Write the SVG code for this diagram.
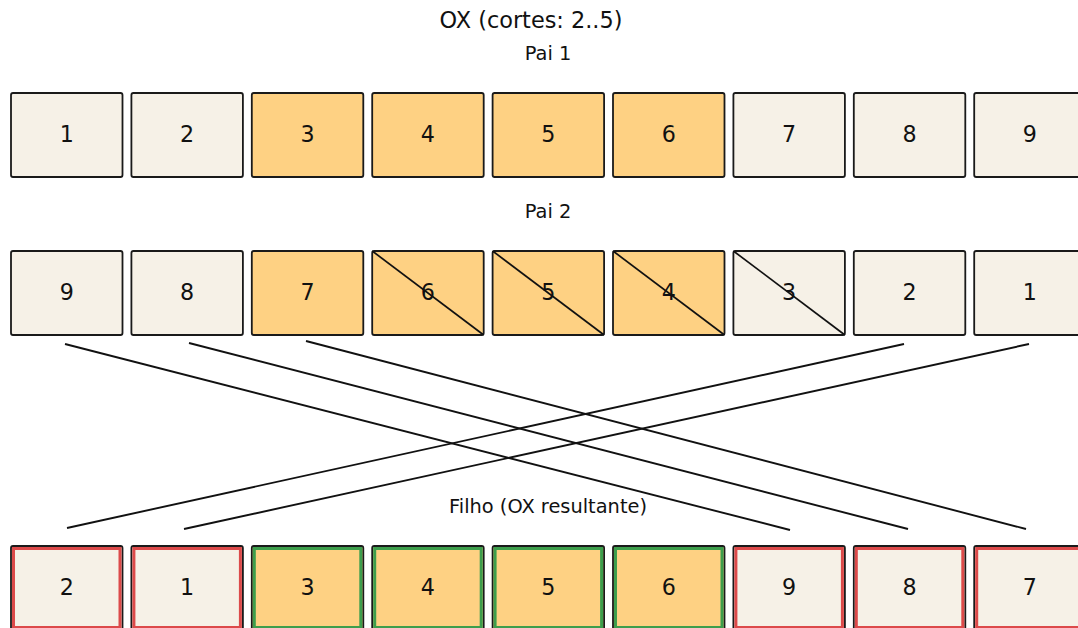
<svg xmlns="http://www.w3.org/2000/svg" width="1078" height="628" viewBox="0 0 1078 628">
<style>
text{font-family:"DejaVu Sans","Liberation Sans",sans-serif;fill:#111;text-anchor:middle;dominant-baseline:central}
.title{font-size:22.4px}
.lbl{font-size:19.4px}
.num{font-size:22.2px}
.b{stroke:#1a1a1a;stroke-width:1.8}
.lt{fill:#f6f1e7}
.or{fill:#fed183}
.red{fill:none;stroke:#dc4a4a;stroke-width:3}
.grn{fill:none;stroke:#3d9e4c;stroke-width:3}
.sl{stroke:#111;stroke-width:1.7}
.cn{stroke:#111;stroke-width:1.9;fill:none}
</style>
<rect width="1078" height="628" fill="#fff"/>
<text class="title" x="531" y="20">OX (cortes: 2..5)</text>
<text class="lbl" x="548" y="53">Pai 1</text>
<text class="lbl" x="548" y="211">Pai 2</text>
<text class="lbl" x="548" y="506">Filho (OX resultante)</text>

<g id="p1">
<g id="p1_0"><rect class="b lt" x="11" y="93" width="111.5" height="84" rx="2"/><text class="num" x="66.7" y="134">1</text></g>
<g id="p1_1"><rect class="b lt" x="131.4" y="93" width="111.5" height="84" rx="2"/><text class="num" x="187.1" y="134">2</text></g>
<g id="p1_2"><rect class="b or" x="251.8" y="93" width="111.5" height="84" rx="2"/><text class="num" x="307.5" y="134">3</text></g>
<g id="p1_3"><rect class="b or" x="372.2" y="93" width="111.5" height="84" rx="2"/><text class="num" x="427.9" y="134">4</text></g>
<g id="p1_4"><rect class="b or" x="492.6" y="93" width="111.5" height="84" rx="2"/><text class="num" x="548.3" y="134">5</text></g>
<g id="p1_5"><rect class="b or" x="613" y="93" width="111.5" height="84" rx="2"/><text class="num" x="668.7" y="134">6</text></g>
<g id="p1_6"><rect class="b lt" x="733.4" y="93" width="111.5" height="84" rx="2"/><text class="num" x="789.1" y="134">7</text></g>
<g id="p1_7"><rect class="b lt" x="853.8" y="93" width="111.5" height="84" rx="2"/><text class="num" x="909.5" y="134">8</text></g>
<g id="p1_8"><rect class="b lt" x="974.2" y="93" width="111.5" height="84" rx="2"/><text class="num" x="1029.9" y="134">9</text></g>
</g>

<g id="p2">
<g id="p2_0"><rect class="b lt" x="11" y="251" width="111.5" height="84" rx="2"/><text class="num" x="66.7" y="292">9</text></g>
<g id="p2_1"><rect class="b lt" x="131.4" y="251" width="111.5" height="84" rx="2"/><text class="num" x="187.1" y="292">8</text></g>
<g id="p2_2"><rect class="b or" x="251.8" y="251" width="111.5" height="84" rx="2"/><text class="num" x="307.5" y="292">7</text></g>
<g id="p2_3"><rect class="b or" x="372.2" y="251" width="111.5" height="84" rx="2"/><text class="num" x="427.9" y="292">6</text><line class="sl" x1="372.2" y1="251" x2="483.7" y2="335"/></g>
<g id="p2_4"><rect class="b or" x="492.6" y="251" width="111.5" height="84" rx="2"/><text class="num" x="548.3" y="292">5</text><line class="sl" x1="492.6" y1="251" x2="604.1" y2="335"/></g>
<g id="p2_5"><rect class="b or" x="613" y="251" width="111.5" height="84" rx="2"/><text class="num" x="668.7" y="292">4</text><line class="sl" x1="613" y1="251" x2="724.5" y2="335"/></g>
<g id="p2_6"><rect class="b lt" x="733.4" y="251" width="111.5" height="84" rx="2"/><text class="num" x="789.1" y="292">3</text><line class="sl" x1="733.4" y1="251" x2="844.9" y2="335"/></g>
<g id="p2_7"><rect class="b lt" x="853.8" y="251" width="111.5" height="84" rx="2"/><text class="num" x="909.5" y="292">2</text></g>
<g id="p2_8"><rect class="b lt" x="974.2" y="251" width="111.5" height="84" rx="2"/><text class="num" x="1029.9" y="292">1</text></g>
</g>

<g id="child">
<g id="c_0"><rect class="b lt" x="11" y="546" width="111.5" height="84" rx="2"/><rect class="red" x="13.5" y="548.5" width="106.5" height="79"/><text class="num" x="66.7" y="587">2</text></g>
<g id="c_1"><rect class="b lt" x="131.4" y="546" width="111.5" height="84" rx="2"/><rect class="red" x="133.9" y="548.5" width="106.5" height="79"/><text class="num" x="187.1" y="587">1</text></g>
<g id="c_2"><rect class="b or" x="251.8" y="546" width="111.5" height="84" rx="2"/><rect class="grn" x="254.3" y="548.5" width="106.5" height="79"/><text class="num" x="307.5" y="587">3</text></g>
<g id="c_3"><rect class="b or" x="372.2" y="546" width="111.5" height="84" rx="2"/><rect class="grn" x="374.7" y="548.5" width="106.5" height="79"/><text class="num" x="427.9" y="587">4</text></g>
<g id="c_4"><rect class="b or" x="492.6" y="546" width="111.5" height="84" rx="2"/><rect class="grn" x="495.1" y="548.5" width="106.5" height="79"/><text class="num" x="548.3" y="587">5</text></g>
<g id="c_5"><rect class="b or" x="613" y="546" width="111.5" height="84" rx="2"/><rect class="grn" x="615.5" y="548.5" width="106.5" height="79"/><text class="num" x="668.7" y="587">6</text></g>
<g id="c_6"><rect class="b lt" x="733.4" y="546" width="111.5" height="84" rx="2"/><rect class="red" x="735.9" y="548.5" width="106.5" height="79"/><text class="num" x="789.1" y="587">9</text></g>
<g id="c_7"><rect class="b lt" x="853.8" y="546" width="111.5" height="84" rx="2"/><rect class="red" x="856.3" y="548.5" width="106.5" height="79"/><text class="num" x="909.5" y="587">8</text></g>
<g id="c_8"><rect class="b lt" x="974.2" y="546" width="111.5" height="84" rx="2"/><rect class="red" x="976.7" y="548.5" width="106.5" height="79"/><text class="num" x="1029.9" y="587">7</text></g>
</g>

<g id="connectors">
<line class="cn" x1="65" y1="344" x2="790" y2="530"/>
<line class="cn" x1="189" y1="343" x2="908" y2="529"/>
<line class="cn" x1="306" y1="341" x2="1026" y2="529"/>
<line class="cn" x1="904" y1="344" x2="67" y2="528"/>
<line class="cn" x1="1029" y1="344" x2="184" y2="529"/>
</g>
</svg>
